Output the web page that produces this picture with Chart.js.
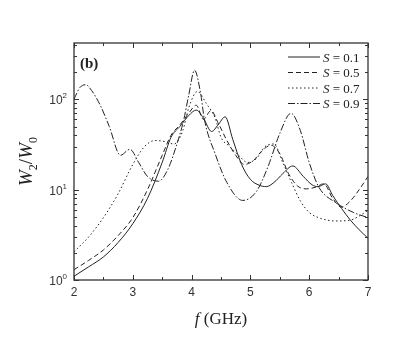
<!DOCTYPE html>
<html><head><meta charset="utf-8">
<script src="https://cdn.jsdelivr.net/npm/chart.js@4"></script>
<style>html,body{margin:0;padding:0;background:#fff}canvas{display:block}</style>
</head><body>
<canvas id="c" width="415" height="354"></canvas>
<script>
// S = 0.1 (solid)
const s01F = [2,2.25,2.5,2.75,3,3.25,3.5,3.65,3.8,3.95,4.08,4.2,4.34,4.45,4.57,4.7,4.85,5.0,5.15,5.27,5.4,5.55,5.72,5.9,6.05,6.15,6.28,6.4,6.55,6.7,6.85,7];
const s01W = [1.1,1.4,1.8,2.6,4.2,8,20,38,50,66,76,62,44,52,64,36,19,13,11.2,10.8,12,15,18.3,14,11.3,10.8,11.6,8.6,6.2,4.6,3.6,2.9];
// S = 0.5 (dashed)
const s05F = [2,2.25,2.5,2.75,3,3.25,3.5,3.65,3.8,3.95,4.08,4.2,4.33,4.45,4.6,4.75,4.9,5.05,5.2,5.35,5.5,5.65,5.8,5.95,6.1,6.25,6.4,6.55,6.7,6.85,7];
const s05W = [1.3,1.65,2.15,3.1,4.9,10,24,40,52,70,86,60,75,55,35,24,19,21,27,31,25,15,11,10.2,10.6,11.6,8,6.4,7.5,10,14];
// S = 0.7 (dotted)
const s07F = [2,2.25,2.5,2.75,3,3.2,3.38,3.55,3.7,3.85,3.95,4.1,4.25,4.4,4.5,4.65,4.8,4.95,5.1,5.25,5.4,5.55,5.7,5.85,6.0,6.2,6.45,6.7,6.85,7];
const s07W = [2.05,3.0,4.9,9,19,30,35,34,32,45,80,122,90,62,38,30,24,20,22,30,32,20,12,7.5,5.6,4.8,4.5,4.6,5.1,5.9];
// S = 0.9 (dash-dot)
const s09F = [2,2.1,2.2,2.3,2.45,2.6,2.79,2.95,3.1,3.25,3.44,3.6,3.75,3.86,3.95,4.05,4.15,4.22,4.4,4.6,4.87,5.1,5.3,5.5,5.69,5.85,6.0,6.17,6.45,6.75,7];
const s09W = [100,135,145,125,85,50,24,28,20,14,12.4,17,32,57,110,210,120,59,25,12,7.6,9.5,18,42,70,45,20,10.5,7.2,5.6,4.9];

const xTicks = [2,3,4,5,6,7];
const yTicks = [1,10,100];
const legendLabels = ['0.1','0.5','0.7','0.9'];

const dashes = [[], [5,3], [1.5,2.5], [7,2,1.5,2]];
const series = [[s01F,s01W],[s05F,s05W],[s07F,s07W],[s09F,s09W]];

const datasets = series.map((s,i)=>({
  label: 'S = ' + legendLabels[i],
  data: s[0].map((f,j)=>({x:f, y:s[1][j]})),
  borderColor: '#222',
  borderWidth: 1,
  borderDash: dashes[i],
  pointRadius: 0,
  fill: false,
  cubicInterpolationMode: 'monotone'
}));

const deco = {
  id: 'deco',
  afterDraw(chart) {
    const ctx = chart.ctx, a = chart.chartArea;
    const xs = chart.scales.x, ys = chart.scales.y;
    ctx.save();
    ctx.strokeStyle = '#333';
    ctx.lineWidth = 1.3;
    ctx.setLineDash([]);
    ctx.strokeRect(a.left, a.top, a.right - a.left, a.bottom - a.top);
    ctx.lineWidth = 1;
    // x ticks
    for (let v = 2; v <= 7.001; v += 0.5) {
      const px = Math.round(xs.getPixelForValue(v)) + 0.5;
      const len = Number.isInteger(v) ? 5 : 3;
      ctx.beginPath();
      ctx.moveTo(px, a.bottom); ctx.lineTo(px, a.bottom - len);
      ctx.moveTo(px, a.top); ctx.lineTo(px, a.top + len);
      ctx.stroke();
    }
    // y ticks
    for (let d = 0; d <= 2; d++) {
      for (let m = 1; m <= 9; m++) {
        const v = m * Math.pow(10, d);
        if (v > ys.max) break;
        const py = Math.round(ys.getPixelForValue(v)) + 0.5;
        const len = m === 1 ? 5 : 3;
        ctx.beginPath();
        ctx.moveTo(a.left, py); ctx.lineTo(a.left + len, py);
        ctx.moveTo(a.right, py); ctx.lineTo(a.right - len, py);
        ctx.stroke();
      }
    }
    // x tick labels
    ctx.fillStyle = '#333';
    ctx.font = '12px "Liberation Sans", Arial, sans-serif';
    ctx.textAlign = 'center';
    ctx.textBaseline = 'top';
    xTicks.forEach(v => ctx.fillText(String(v), xs.getPixelForValue(v), a.bottom + 7));
    // y tick labels 10^n
    yTicks.forEach(v => {
      const py = ys.getPixelForValue(v);
      const exp = String(Math.round(Math.log10(v)));
      ctx.font = '8px "Liberation Sans", Arial, sans-serif';
      const ew = ctx.measureText(exp).width;
      const right = a.left - 7;
      ctx.textAlign = 'left';
      ctx.textBaseline = 'alphabetic';
      ctx.fillText(exp, right - ew, py - 1);
      ctx.font = '12px "Liberation Sans", Arial, sans-serif';
      ctx.textAlign = 'right';
      ctx.fillText('10', right - ew, py + 5);
    });
    // x title: f (GHz)
    ctx.fillStyle = '#222';
    ctx.textBaseline = 'alphabetic';
    const cx = (a.left + a.right) / 2;
    ctx.font = 'italic 17px "Liberation Serif", "Times New Roman", serif';
    const fw = ctx.measureText('f').width;
    ctx.font = '17px "Liberation Serif", "Times New Roman", serif';
    const gw = ctx.measureText(' (GHz)').width;
    let sx = cx - (fw + gw) / 2;
    ctx.textAlign = 'left';
    ctx.font = 'italic 17px "Liberation Serif", "Times New Roman", serif';
    ctx.fillText('f', sx, 324);
    ctx.font = '17px "Liberation Serif", "Times New Roman", serif';
    ctx.fillText(' (GHz)', sx + fw, 324);
    // y title: W2/W0
    ctx.save();
    ctx.translate(32, (a.top + a.bottom) / 2);
    ctx.rotate(-Math.PI / 2);
    const parts = [
      ['W', 'italic 19px "Liberation Serif", serif', 0],
      ['2', '12px "Liberation Serif", serif', 5],
      ['/', '19px "Liberation Serif", serif', 0],
      ['W', 'italic 19px "Liberation Serif", serif', 0],
      ['0', '12px "Liberation Serif", serif', 5]
    ];
    let tw = 0;
    parts.forEach(p => { ctx.font = p[1]; tw += ctx.measureText(p[0]).width; });
    let tx = -tw / 2;
    parts.forEach(p => { ctx.font = p[1]; ctx.fillText(p[0], tx, p[2]); tx += ctx.measureText(p[0]).width; });
    ctx.restore();
    // panel label
    ctx.font = 'bold 15px "Liberation Serif", "Times New Roman", serif';
    ctx.fillText('(b)', a.left + 6, a.top + 25);
    // legend
    const rows = [57, 72.5, 88, 103.5];
    chart.data.datasets.forEach((ds, i) => {
      const y = rows[i];
      ctx.strokeStyle = '#222';
      ctx.lineWidth = 1;
      ctx.setLineDash(ds.borderDash);
      ctx.beginPath();
      ctx.moveTo(288, y); ctx.lineTo(320, y);
      ctx.stroke();
      ctx.setLineDash([]);
      ctx.font = 'italic 13px "Liberation Serif", serif';
      ctx.fillText('S', 323, y + 4.5);
      const w = ctx.measureText('S').width;
      ctx.font = '13px "Liberation Serif", serif';
      ctx.fillText(' = ' + legendLabels[i], 323 + w, y + 4.5);
    });
    ctx.restore();
  }
};

new Chart(document.getElementById('c'), {
  type: 'line',
  data: { datasets },
  options: {
    responsive: false,
    animation: false,
    layout: { padding: { left: 74, right: 47, top: 43, bottom: 74 } },
    plugins: { legend: { display: false }, tooltip: { enabled: false } },
    scales: {
      x: { type: 'linear', min: 2, max: 7, display: false },
      y: { type: 'logarithmic', min: 1, max: 420, display: false }
    }
  },
  plugins: [deco]
});
</script>
</body></html>
